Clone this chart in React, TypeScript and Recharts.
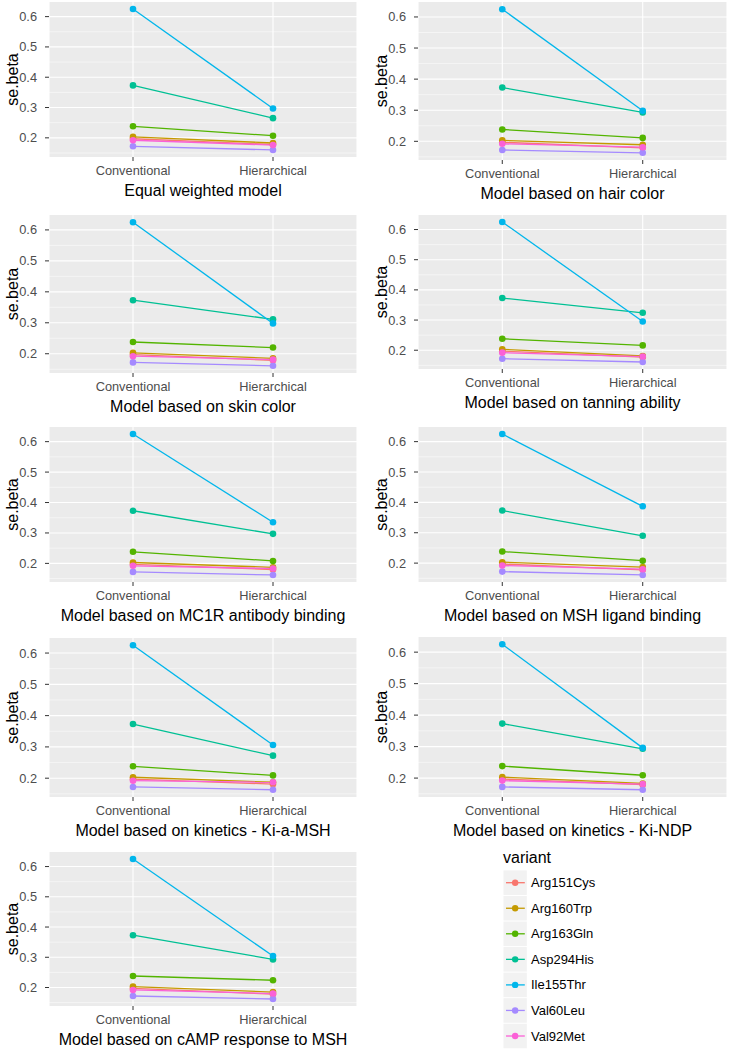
import { CartesianGrid, Line, LineChart, XAxis, YAxis } from "recharts";

const CATEGORIES = ["Conventional", "Hierarchical"];

const VARIANTS = [
  "Arg151Cys",
  "Arg160Trp",
  "Arg163Gln",
  "Asp294His",
  "Ile155Thr",
  "Val60Leu",
  "Val92Met",
];

const VARIANT_COLORS = [
  "#F8766D",
  "#C49A00",
  "#53B400",
  "#00C094",
  "#00B6EB",
  "#A58AFF",
  "#FB61D7",
];

const PANEL_TITLES = [
  "Equal weighted model",
  "Model based on hair color",
  "Model based on skin color",
  "Model based on tanning ability",
  "Model based on MC1R antibody binding",
  "Model based on MSH ligand binding",
  "Model based on kinetics - Ki-a-MSH",
  "Model based on kinetics - Ki-NDP",
  "Model based on cAMP response to MSH",
];

// se.beta of the conventional fit, same in every panel (variant order as VARIANTS)
const CONVENTIONAL_SE = [0.197, 0.203, 0.238, 0.373, 0.625, 0.172, 0.192];

// se.beta of the hierarchical fit, one row per panel
const HIERARCHICAL_SE = [
  [0.178, 0.183, 0.207, 0.265, 0.297, 0.16, 0.176],
  [0.179, 0.189, 0.211, 0.293, 0.298, 0.163, 0.181],
  [0.179, 0.185, 0.22, 0.311, 0.298, 0.161, 0.181],
  [0.177, 0.181, 0.216, 0.324, 0.295, 0.161, 0.179],
  [0.18, 0.187, 0.208, 0.297, 0.335, 0.162, 0.183],
  [0.178, 0.187, 0.208, 0.29, 0.387, 0.161, 0.18],
  [0.181, 0.187, 0.209, 0.272, 0.306, 0.163, 0.187],
  [0.179, 0.183, 0.209, 0.293, 0.296, 0.163, 0.181],
  [0.178, 0.185, 0.224, 0.293, 0.304, 0.162, 0.18],
];

const Y_TICKS = [0.2, 0.3, 0.4, 0.5, 0.6];
const Y_MINOR = [0.15, 0.25, 0.35, 0.45, 0.55];

// plot-area boxes on the page
const PANEL_BOXES = [
  { left: 49, top: 2, width: 308, height: 155 },
  { left: 418, top: 2, width: 309, height: 158 },
  { left: 49, top: 215, width: 308, height: 158 },
  { left: 418, top: 215, width: 309, height: 154 },
  { left: 49, top: 427, width: 308, height: 155 },
  { left: 418, top: 427, width: 309, height: 155 },
  { left: 49, top: 638, width: 308, height: 159 },
  { left: 418, top: 637, width: 309, height: 160 },
  { left: 49, top: 852, width: 308, height: 154 },
];

const Y_AXIS_W = 49;
const X_AXIS_H = 44;
const FONT = '"Liberation Sans", Arial, sans-serif';

const Panel = ({ index }: { index: number }) => {
  const box = PANEL_BOXES[index];
  const hier = HIERARCHICAL_SE[index];

  const data = CATEGORIES.map((category, i) => {
    const row: Record<string, number | string> = { pos: i + 1, category };
    VARIANTS.forEach((v, j) => {
      row[v] = i === 0 ? CONVENTIONAL_SE[j] : hier[j];
    });
    return row;
  });

  // ggplot-style 5% expansion
  const all = [...CONVENTIONAL_SE, ...hier];
  const lo = Math.min(...all);
  const hi = Math.max(...all);
  const pad = (hi - lo) * 0.05;

  return (
    <div
      style={{
        position: "absolute",
        left: box.left - Y_AXIS_W,
        top: box.top,
      }}
    >
      <LineChart
        width={box.width + Y_AXIS_W}
        height={box.height + X_AXIS_H}
        data={data}
        margin={{ top: 0, right: 0, bottom: 0, left: 0 }}
      >
        <CartesianGrid
          fill="#EBEBEB"
          stroke="#FFFFFF"
          strokeWidth={1.1}
          horizontalValues={Y_TICKS}
        />
        <CartesianGrid
          stroke="#FFFFFF"
          strokeWidth={0.5}
          vertical={false}
          horizontalValues={Y_MINOR}
        />
        <XAxis
          dataKey="pos"
          type="number"
          domain={[0.4, 2.6]}
          ticks={[1, 2]}
          tickFormatter={(v) => CATEGORIES[v - 1]}
          height={X_AXIS_H}
          axisLine={false}
          tickSize={4}
          tickMargin={5}
          tickLine={{ stroke: "#333333" }}
          tick={{ fill: "#4D4D4D", fontSize: 12.8 }}
          label={{
            value: PANEL_TITLES[index],
            position: "insideBottom",
            offset: X_AXIS_H - 39,
            fill: "#000000",
            fontSize: 16,
          }}
        />
        <YAxis
          type="number"
          domain={[lo - pad, hi + pad]}
          ticks={Y_TICKS}
          allowDataOverflow
          tickFormatter={(v) => v.toFixed(1)}
          width={Y_AXIS_W}
          axisLine={false}
          tickSize={4}
          tickMargin={8}
          tickLine={{ stroke: "#333333" }}
          tick={{ fill: "#4D4D4D", fontSize: 12.8 }}
          label={{
            value: "se.beta",
            angle: -90,
            position: "insideLeft",
            offset: 12,
            fill: "#000000",
            fontSize: 16,
            style: { textAnchor: "middle" },
          }}
        />
        {VARIANTS.map((v, j) => (
          <Line
            key={`line-${v}`}
            dataKey={v}
            stroke={VARIANT_COLORS[j]}
            strokeWidth={1.3}
            dot={false}
            activeDot={false}
            isAnimationActive={false}
          />
        ))}
        {VARIANTS.map((v, j) => (
          <Line
            key={`pt-${v}`}
            dataKey={v}
            stroke="none"
            dot={{ r: 3.3, fill: VARIANT_COLORS[j], strokeWidth: 0 }}
            activeDot={false}
            isAnimationActive={false}
          />
        ))}
      </LineChart>
    </div>
  );
};

const VariantLegend = () => {
  const keyX = 503.5;
  const keyW = 23.3;
  const firstY = 882.7;
  const step = 25.55;
  return (
    <svg
      width={729}
      height={1050}
      style={{ position: "absolute", left: 0, top: 0, pointerEvents: "none" }}
    >
      <text x={503} y={862.7} fontSize={16} fill="#000000">
        variant
      </text>
      {VARIANTS.map((v, i) => {
        const cy = firstY + i * step;
        return (
          <g key={v}>
            <rect
              x={keyX}
              y={cy - step / 2 + 0.5}
              width={keyW}
              height={step - 1}
              fill="#F2F2F2"
            />
            <line
              x1={keyX + 2.5}
              x2={keyX + keyW - 2}
              y1={cy}
              y2={cy}
              stroke={VARIANT_COLORS[i]}
              strokeWidth={1.3}
            />
            <circle cx={keyX + keyW / 2} cy={cy} r={3.2} fill={VARIANT_COLORS[i]} />
            <text
              x={531}
              y={cy}
              fontSize={13}
              fill="#000000"
              dominantBaseline="central"
            >
              {v}
            </text>
          </g>
        );
      })}
    </svg>
  );
};

export default function App() {
  return (
    <div
      style={{
        position: "absolute",
        left: 0,
        top: 0,
        width: 729,
        height: 1050,
        background: "#FFFFFF",
        fontFamily: FONT,
        overflow: "hidden",
      }}
    >
      {PANEL_TITLES.map((_, i) => (
        <Panel key={i} index={i} />
      ))}
      <VariantLegend />
    </div>
  );
}
